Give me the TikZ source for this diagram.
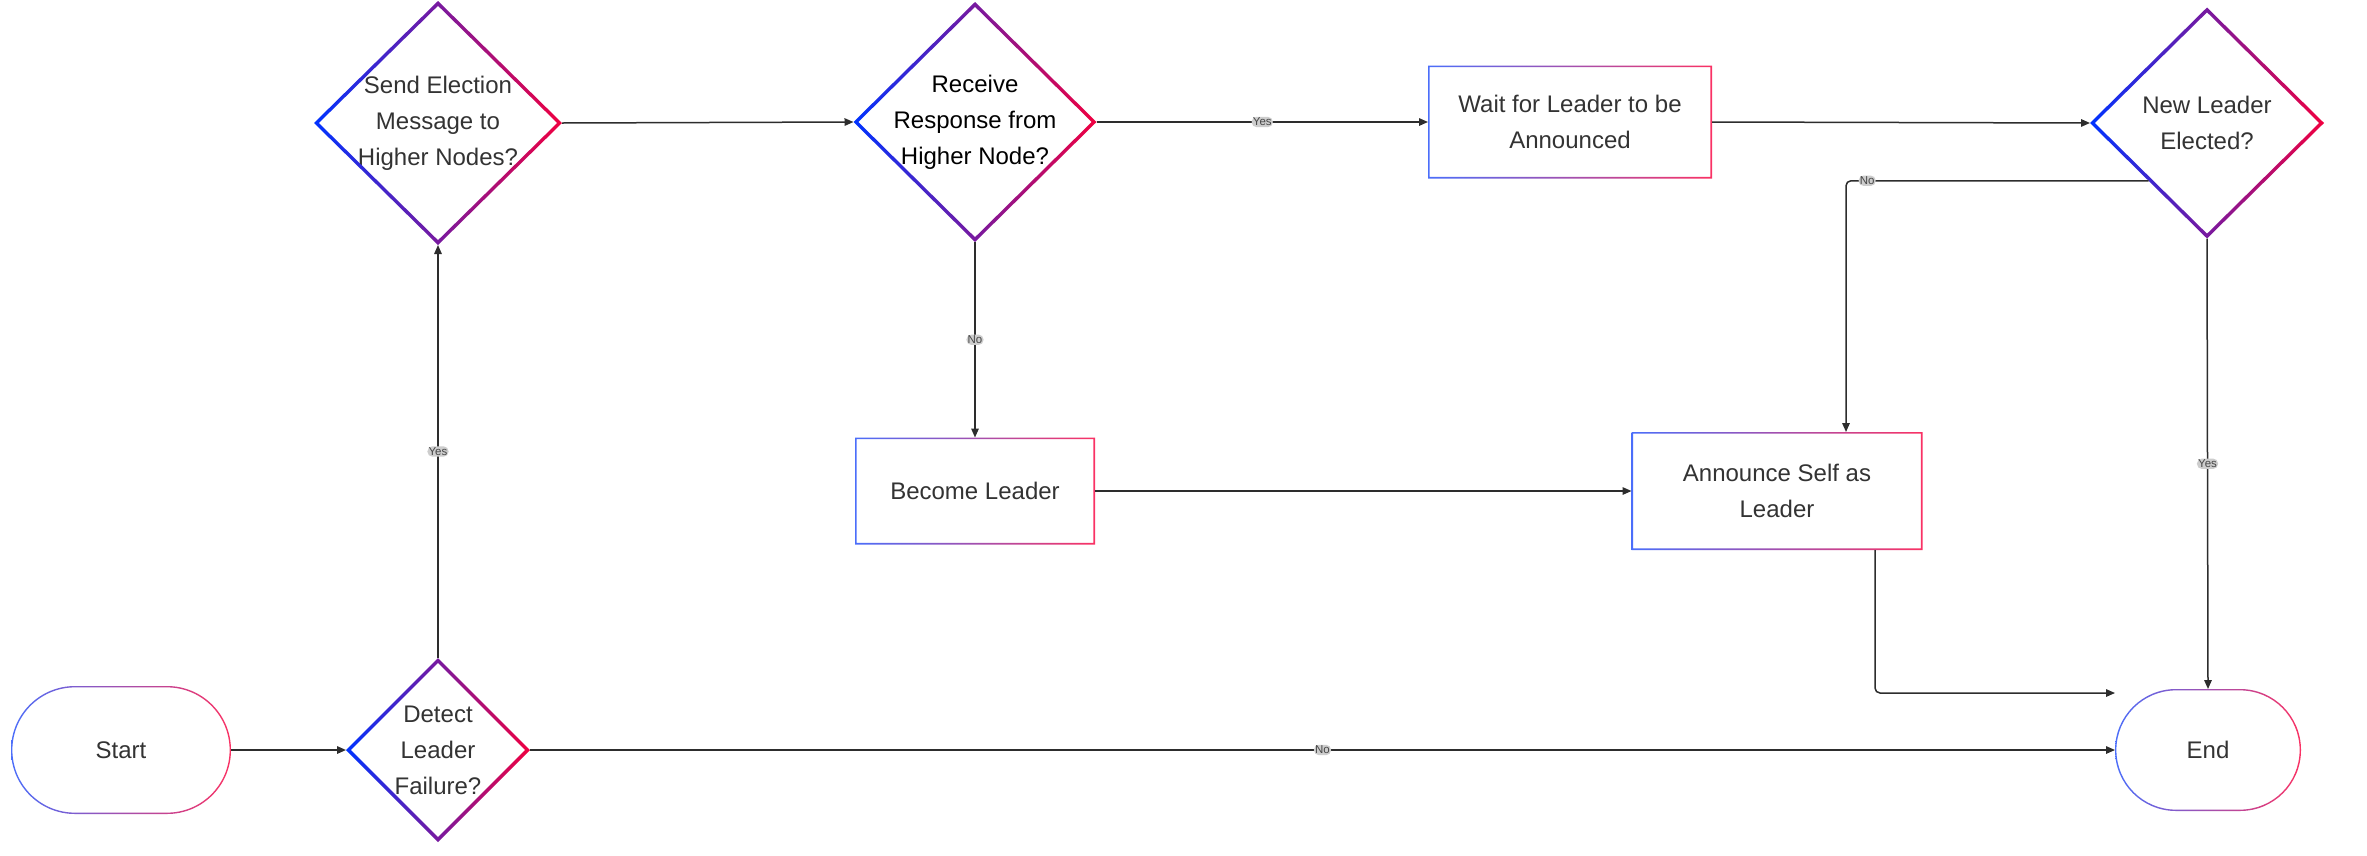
\documentclass[tikz,border=0pt]{standalone}
\usepackage{fontspec}
\setmainfont{Liberation Sans}
\usetikzlibrary{arrows.meta,calc,shapes.geometric}
\definecolor{gblue}{RGB}{0,51,255}
\definecolor{gred}{RGB}{240,0,64}
\definecolor{bblue}{RGB}{75,110,250}
\definecolor{bred}{RGB}{250,50,100}
\definecolor{txt}{RGB}{51,51,51}
\definecolor{lblbg}{RGB}{205,205,205}
\definecolor{lbltxt}{RGB}{70,70,70}
\definecolor{edgec}{RGB}{45,45,45}
\newcommand\dring[1]{\shade[left color=gblue,right color=gred,even odd rule]
  (#1.west) -- (#1.north) -- (#1.east) -- (#1.south) -- cycle
  ($(#1.west)+(4.8,0)$) -- ($(#1.north)+(0,4.8)$) -- ($(#1.east)+(-4.8,0)$) -- ($(#1.south)+(0,-4.8)$) -- cycle;}
\newcommand\rring[1]{\shade[left color=bblue,right color=bred,even odd rule]
  (#1.south west) rectangle (#1.north east)
  ($(#1.south west)+(1.6,-1.6)$) rectangle ($(#1.north east)+(-1.6,1.6)$);}
\newcommand\sring[2]{\shade[left color=bblue,right color=bred,even odd rule]
  [rounded corners=#2pt] (#1.south west) rectangle (#1.north east)
  [rounded corners=#2pt-1.4pt] ($(#1.south west)+(1.4,-1.4)$) rectangle ($(#1.north east)+(-1.4,1.4)$);}
\begin{document}
\begin{tikzpicture}[x=1pt,y=-1pt,
  txtfont/.style={font=\fontsize{24}{36}\selectfont, text=txt, align=center},
  dia/.style={shape=diamond, draw=none, fill=white, inner sep=0pt, outer sep=0pt},
  dtext/.style={txtfont, inner sep=0pt},
  box/.style={shape=rectangle, draw=none, fill=white, inner sep=0pt, outer sep=0pt, txtfont},
  stad/.style={shape=rectangle, draw=none, inner sep=0pt, outer sep=0pt, txtfont},
  edge/.style={draw=edgec, line width=1.5pt, -{Triangle[length=9pt,width=7.5pt]}, rounded corners=5pt},
  elbl/.style={fill=lblbg, text=lbltxt, font=\fontsize{11.5}{13}\selectfont, inner sep=1.2pt}]
\useasboundingbox[fill=white] (0,0) rectangle (2367,855);

% stadiums
\fill[white, rounded corners=63.9pt] (11,686) rectangle (231,814);
\node[stad, minimum width=220pt, minimum height=128pt] (start) at (121,750) {Start};
\sring{start}{63.9}
\fill[white, rounded corners=60.9pt] (2115,689) rectangle (2301,811);
\node[stad, minimum width=186pt, minimum height=122pt] (end) at (2208,750) {End};
\sring{end}{60.9}

% diamonds
\node[dia, minimum width=184pt, minimum height=184pt,
  label={[dtext]center:{Detect\\Leader\\Failure?}}] (detect) at (438,750) {};
\dring{detect}
\node[dia, minimum width=248pt, minimum height=244pt,
  label={[dtext]center:{Send Election\\Message to\\Higher Nodes?}}] (send) at (438,123) {};
\dring{send}
\node[dia, minimum width=243pt, minimum height=240pt,
  label={[dtext, text=black]center:{Receive\\Response from\\Higher Node?}}] (recv) at (975,122) {};
\dring{recv}
\node[dia, minimum width=234pt, minimum height=231pt,
  label={[dtext]center:{New Leader\\Elected?}}] (nl) at (2207,123) {};
\dring{nl}

% boxes
\node[box, minimum width=284pt, minimum height=113pt] (wait) at (1570,122) {Wait for Leader to be\\Announced};
\rring{wait}
\node[box, minimum width=240pt, minimum height=107pt] (become) at (975,491) {Become Leader};
\rring{become}
\node[box, minimum width=291pt, minimum height=118pt] (ann) at (1777,491) {Announce Self as\\Leader};
\rring{ann}

% edges
\draw[edge] (start.east) -- (detect.west);
\draw[edge] (detect.north) -- node[elbl, midway] {Yes} (send.south);
\draw[edge] (send.east) -- (recv.west);
\draw[edge] (recv.east) -- node[elbl, midway] {Yes} (wait.west);
\draw[edge] (recv.south) -- node[elbl, midway] {No} (become.north);
\draw[edge] (wait.east) -- (nl.west);
\draw[edge] (become.east) -- (ann.west);
\draw[edge] (nl.south west) -| node[elbl, pos=0.465] {No} ($(ann.north)+(69,0)$);
\draw[edge] (nl.south) -- node[elbl, midway] {Yes} (end.north);
\draw[edge] ($(ann.south)+(98,0)$) |- ($(end.north west)+(0,4)$);
\draw[edge] (detect.east) -- node[elbl, midway] {No} (end.west);
\end{tikzpicture}
\end{document}
